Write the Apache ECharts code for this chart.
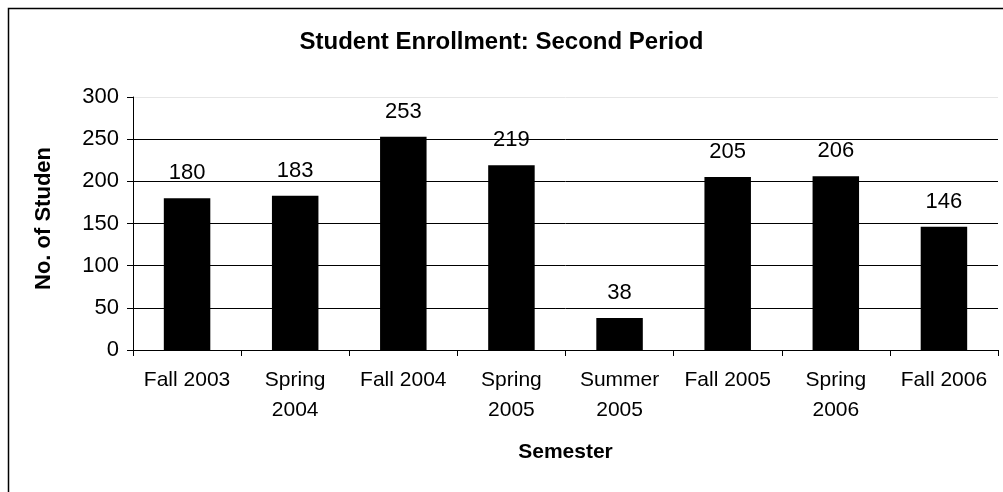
<!DOCTYPE html>
<html style="height: 100%">
<head>
  <meta charset="utf-8">
  <title>Student Enrollment</title>
</head>
<body style="height: 100%; margin: 0; background: #fff">
  <div id="container" style="width: 1003px; height: 492px"></div>
  <script src="https://cdn.jsdelivr.net/npm/echarts@6/dist/echarts.min.js"></script>
  <script>
    // data
    const semesters = ['Fall 2003', 'Spring\n2004', 'Fall 2004', 'Spring\n2005', 'Summer\n2005', 'Fall 2005', 'Spring\n2006', 'Fall 2006'];
    const students = [180, 183, 253, 219, 38, 205, 206, 146];
    const yMin = 0, yMax = 300, yStep = 50;

    const font = 'Arial, "Liberation Sans", sans-serif';
    const chart = echarts.init(document.getElementById('container'));

    const option = {
      animation: false,
      textStyle: { fontFamily: font },
      title: {
        text: 'Student Enrollment: Second Period',
        left: 'center',
        top: 25,
        textStyle: { fontSize: 24, fontWeight: 'bold', color: '#000', fontFamily: font }
      },
      // outer frame of the chart
      graphic: [{
        type: 'rect',
        shape: { x: 8.5, y: 8.5, width: 1100, height: 600 },
        style: { fill: 'none', stroke: '#000', lineWidth: 1.5 },
        silent: true
      }],
      grid: { left: 133, right: 5, top: 97, bottom: 142 },
      xAxis: {
        type: 'category',
        data: semesters,
        name: 'Semester',
        nameLocation: 'middle',
        nameGap: 102,
        nameMoveOverlap: false,
        nameTextStyle: { fontSize: 21, fontWeight: 'bold', color: '#000', fontFamily: font, verticalAlign: 'middle' },
        axisLine: { lineStyle: { color: '#000', width: 1 } },
        axisTick: { show: true, length: 6, lineStyle: { color: '#000' } },
        axisLabel: { fontSize: 21, color: '#000', margin: 15, lineHeight: 30, fontFamily: font, interval: 0 },
        splitLine: { show: false }
      },
      yAxis: {
        type: 'value',
        min: yMin,
        max: yMax,
        interval: yStep,
        name: 'No. of Studen',
        nameLocation: 'middle',
        nameGap: 78,
        nameMoveOverlap: false,
        nameTextStyle: { fontSize: 22, fontWeight: 'bold', color: '#000', fontFamily: font, padding: [0, 0, 0, 10] },
        axisLine: { show: true, lineStyle: { color: '#000', width: 1 } },
        axisTick: { show: true, length: 6, lineStyle: { color: '#000' } },
        axisLabel: { fontSize: 22, color: '#000', margin: 14, fontFamily: font },
        splitLine: {
          show: true,
          lineStyle: { color: ['#000', '#000', '#000', '#000', '#000', '#000', '#e6e6e6'], width: 1 }
        }
      },
      series: [{
        type: 'bar',
        data: students,
        barWidth: '43%',
        itemStyle: { color: '#000' },
        label: {
          show: true,
          position: 'top',
          distance: 14,
          fontSize: 22,
          color: '#000',
          fontFamily: font
        }
      }]
    };

    chart.setOption(option);
  </script>
</body>
</html>
